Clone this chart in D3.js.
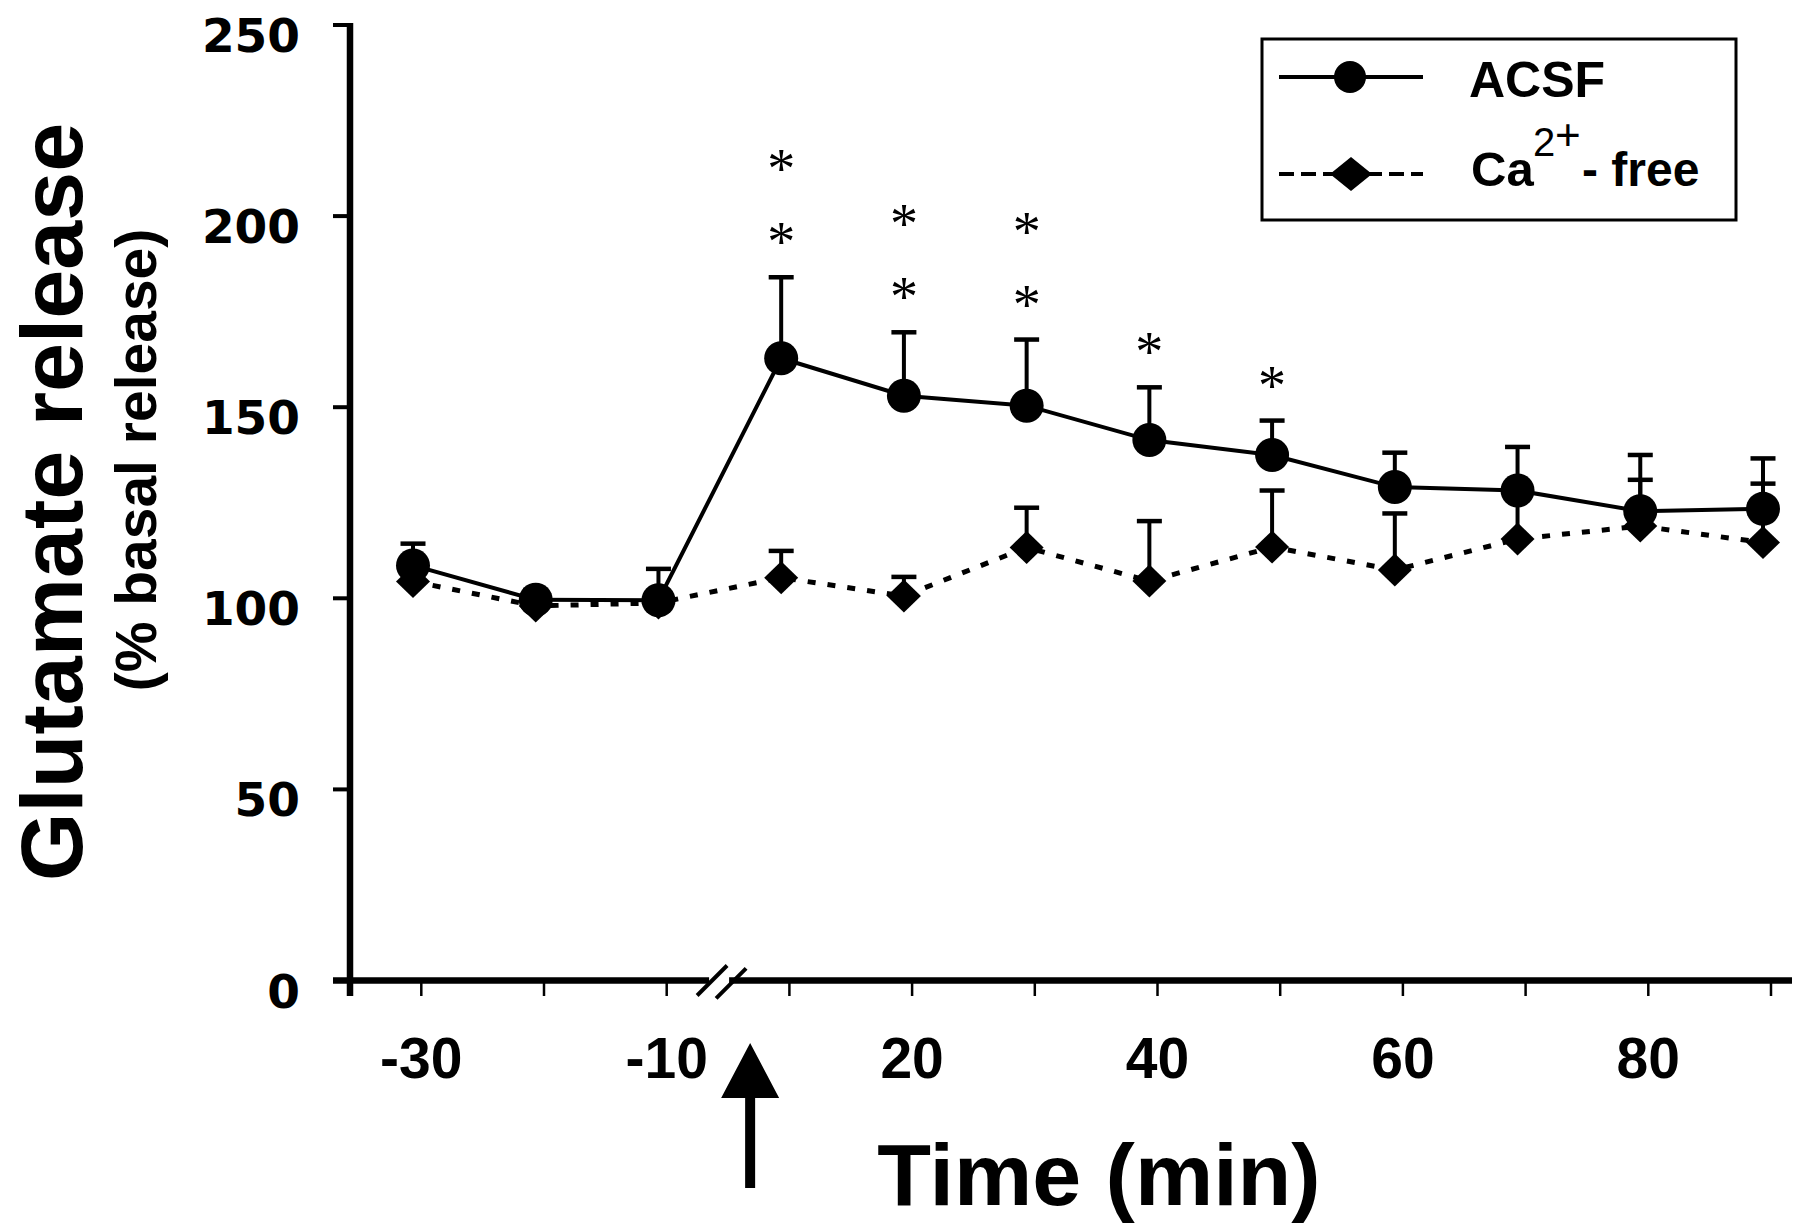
<!DOCTYPE html>
<html><head><meta charset="utf-8">
<script src="https://cdn.jsdelivr.net/npm/d3@7"></script>
<style>body{margin:0;background:#fff}svg{display:block}</style>
</head><body><svg id="c" width="1800" height="1230"></svg>
<script>
// ---- data ----
const times = [-30, -20, -10, 10, 20, 30, 40, 50, 60, 70, 80, 90];
const acsfMean = [108.6, 99.6, 99.5, 162.8, 153.0, 150.4, 141.4, 137.5, 129.1, 128.2, 122.8, 123.4];
const acsfSem  = [5.7, 2.6, 8.2, 21.2, 16.6, 17.3, 13.8, 9.0, 9.0, 11.4, 14.7, 13.2];
const caMean   = [104.4, 98.0, 98.8, 105.4, 100.6, 113.3, 104.5, 113.4, 107.4, 115.5, 118.9, 114.6];
const caSem    = [2.0, 2.0, 2.0, 7.0, 5.0, 10.4, 15.7, 14.8, 14.8, 11.0, 12.1, 15.4];
const sigStars = [0, 0, 0, 2, 2, 2, 1, 1, 0, 0, 0, 0];
const xLabelTimes = [-30, -10, 20, 40, 60, 80];
const yTicks = [0, 50, 100, 150, 200, 250];
const legendNames = ["ACSF", "Ca", "2", "+", "- free"];
const xTitle = "Time (min)";
const yTitle = "Glutamate release";
const ySubTitle = "(% basal release)";

// ---- scales ----
const idx = d3.range(times.length);
const xTick = d3.scaleLinear().domain([0, times.length - 1]).range([421.3, 1771]);
const xPt = d3.scaleLinear().domain([0, times.length - 1]).range([413, 1763]);
const y = d3.scaleLinear().domain([0, 250]).range([980.5, 25]);

const svg = d3.select("#c");
const SANS = "'Liberation Sans', Arial, Helvetica, sans-serif";

// ---- axes ----
const ax = svg.append("g");
ax.append("line").attr("x1", 350).attr("x2", 350).attr("y1", y(250) - 2).attr("y2", 996)
  .attr("stroke", "#000").attr("stroke-width", 6.5);
ax.append("line").attr("x1", 333).attr("x2", 1792).attr("y1", y(0)).attr("y2", y(0))
  .attr("stroke", "#000").attr("stroke-width", 6.5);
ax.selectAll(".yt").data(yTicks).join("line")
  .attr("x1", 333).attr("x2", 350).attr("y1", d => y(d)).attr("y2", d => y(d))
  .attr("stroke", "#000").attr("stroke-width", 4);
ax.selectAll(".ytl").data(yTicks).join("text")
  .attr("x", 300).attr("y", d => y(d) + 27).attr("text-anchor", "end")
  .attr("font-family", "'DejaVu Sans', sans-serif").attr("font-weight", "bold")
  .attr("font-size", 47).text(d => d);
ax.selectAll(".xt").data(idx).join("line")
  .attr("x1", d => xTick(d)).attr("x2", d => xTick(d)).attr("y1", y(0)).attr("y2", 996)
  .attr("stroke", "#000").attr("stroke-width", 2.5);
ax.selectAll(".xtl").data(xLabelTimes).join("text")
  .attr("x", d => xTick(times.indexOf(d))).attr("y", 1078).attr("text-anchor", "middle")
  .attr("font-family", SANS).attr("font-weight", "bold").attr("font-size", 57).text(d => d);

// axis break
const bx = xTick(2.37);
ax.append("rect").attr("x", bx - 3).attr("y", y(0) - 5).attr("width", 20).attr("height", 10).attr("fill", "#fff");
[0, 19].forEach(o => {
  ax.append("line").attr("x1", bx - 15 + o).attr("y1", y(0) + 15 + o * 0.15)
    .attr("x2", bx + 15 + o).attr("y2", y(0) - 15 + o * 0.15)
    .attr("stroke", "#000").attr("stroke-width", 4);
});

// arrow (stimulus)
const axX = xTick(2.68);
svg.append("path")
  .attr("d", `M${axX},1043 L${axX + 29},1098 L${axX + 5},1098 L${axX + 5},1188 L${axX - 5},1188 L${axX - 5},1098 L${axX - 29},1098 Z`)
  .attr("fill", "#000");

// titles
svg.append("text").attr("x", 1099).attr("y", 1205).attr("text-anchor", "middle")
  .attr("font-family", SANS).attr("font-weight", "bold").attr("font-size", 88).text(xTitle);
svg.append("text").attr("transform", "translate(82,502) rotate(-90)").attr("text-anchor", "middle")
  .attr("font-family", SANS).attr("font-weight", "bold").attr("font-size", 88).text(yTitle);
svg.append("text").attr("transform", "translate(156,460) rotate(-90)").attr("text-anchor", "middle")
  .attr("font-family", SANS).attr("font-weight", "bold").attr("font-size", 57).text(ySubTitle);

// ---- error bars ----
function errBars(mean, sem) {
  const g = svg.append("g").attr("stroke", "#000");
  g.selectAll("line.s").data(idx).join("line")
    .attr("x1", i => xPt(i)).attr("x2", i => xPt(i))
    .attr("y1", i => y(mean[i])).attr("y2", i => y(mean[i] + sem[i])).attr("stroke-width", 4);
  g.selectAll("line.c").data(idx).join("line")
    .attr("x1", i => xPt(i) - 12.5).attr("x2", i => xPt(i) + 12.5)
    .attr("y1", i => y(mean[i] + sem[i])).attr("y2", i => y(mean[i] + sem[i])).attr("stroke-width", 4.5);
}
errBars(caMean, caSem);
errBars(acsfMean, acsfSem);

// ---- lines ----
svg.append("path").datum(idx)
  .attr("d", d3.line().x(i => xPt(i)).y(i => y(caMean[i])))
  .attr("fill", "none").attr("stroke", "#000").attr("stroke-width", 5).attr("stroke-dasharray", "8,12");
svg.append("path").datum(idx)
  .attr("d", d3.line().x(i => xPt(i)).y(i => y(acsfMean[i])))
  .attr("fill", "none").attr("stroke", "#000").attr("stroke-width", 4);

// ---- markers ----
const diamond = (cx, cy, hw, hh) => `M${cx},${cy - hh} L${cx + hw},${cy} L${cx},${cy + hh} L${cx - hw},${cy} Z`;
svg.selectAll("path.dm").data(idx).join("path")
  .attr("d", i => diamond(xPt(i), y(caMean[i]), 17, 16.5)).attr("fill", "#000");
svg.selectAll("circle.ac").data(idx).join("circle")
  .attr("cx", i => xPt(i)).attr("cy", i => y(acsfMean[i])).attr("r", 17).attr("fill", "#000");

// ---- significance stars ----
const stars = [];
idx.forEach(i => { for (let k = 0; k < sigStars[i]; k++) stars.push({ i, k }); });
svg.selectAll("text.st").data(stars).join("text")
  .attr("x", d => xPt(d.i)).attr("y", d => y(acsfMean[d.i] + acsfSem[d.i]) - 42 - d.k * 73 + 26)
  .attr("text-anchor", "middle").attr("font-family", "'Liberation Serif', 'Times New Roman', serif")
  .attr("font-size", 56).text("*");

// ---- legend ----
const lg = svg.append("g");
lg.append("rect").attr("x", 1262).attr("y", 39).attr("width", 474).attr("height", 181)
  .attr("fill", "#fff").attr("stroke", "#000").attr("stroke-width", 3);
lg.append("line").attr("x1", 1279).attr("x2", 1423).attr("y1", 77).attr("y2", 77)
  .attr("stroke", "#000").attr("stroke-width", 4);
lg.append("circle").attr("cx", 1350).attr("cy", 77).attr("r", 16).attr("fill", "#000");
lg.append("text").attr("x", 1469).attr("y", 97).attr("font-family", SANS).attr("font-weight", "bold")
  .attr("font-size", 50).text(legendNames[0]);
lg.append("line").attr("x1", 1279).attr("x2", 1423).attr("y1", 174).attr("y2", 174)
  .attr("stroke", "#000").attr("stroke-width", 4).attr("stroke-dasharray", "15,7");
lg.append("path").attr("d", diamond(1351, 174, 21, 17)).attr("fill", "#000");
lg.append("text").attr("x", 1471).attr("y", 186).attr("font-family", SANS).attr("font-weight", "bold")
  .attr("font-size", 49).text(legendNames[1]);
lg.append("text").attr("x", 1533).attr("y", 156).attr("font-family", SANS)
  .attr("font-size", 40).text(legendNames[2]);
lg.append("text").attr("x", 1555).attr("y", 150).attr("font-family", SANS)
  .attr("font-size", 44).text(legendNames[3]);
lg.append("text").attr("x", 1582).attr("y", 186).attr("font-family", SANS).attr("font-weight", "bold")
  .attr("font-size", 48).text(legendNames[4]);
</script></body></html>
